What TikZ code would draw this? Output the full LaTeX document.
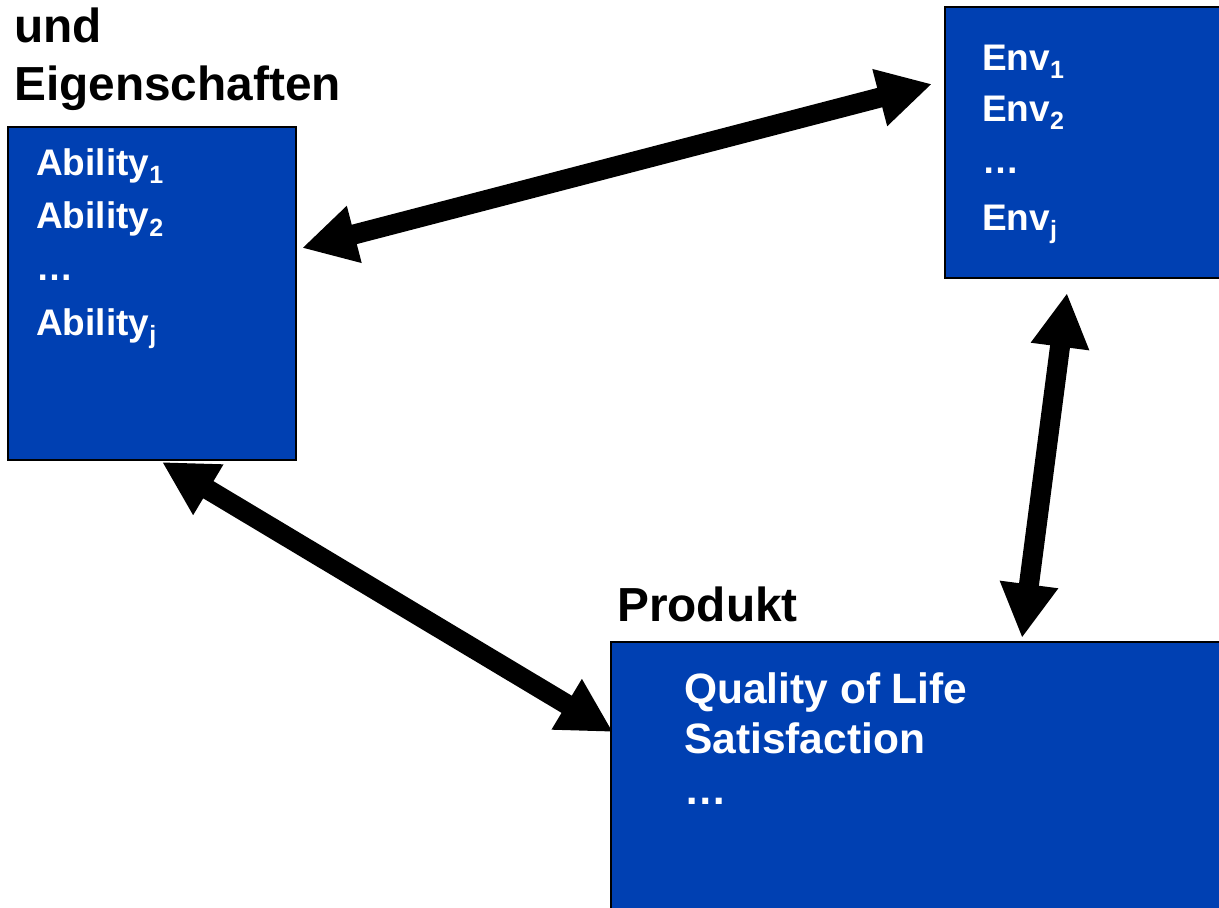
\documentclass[tikz,border=0pt]{standalone}
\usepackage{fontspec}
\setmainfont{Liberation Sans}
\usetikzlibrary{arrows.meta,calc}
\definecolor{boxblue}{RGB}{0,64,178}
\newcommand{\subt}[1]{{\fontsize{25}{25}\selectfont\raisebox{-8pt}{#1}}}
\tikzset{
  bluebox/.style={draw=black, line width=1.5pt, fill=boxblue, anchor=north west, inner sep=0pt, outer sep=0pt},
  title/.style={anchor=base west, inner sep=0pt, font=\fontsize{47.8}{47.8}\selectfont\bfseries, text=black},
  item/.style={anchor=base west, inner sep=0pt, font=\fontsize{37}{37}\selectfont\bfseries, text=white},
  bigitem/.style={anchor=base west, inner sep=0pt, font=\fontsize{42.5}{42.5}\selectfont\bfseries, text=white},
  dblarrow/.style={line width=20pt, {Triangle[length=54pt,width=55pt]}-{Triangle[length=54pt,width=55pt]}}
}
\begin{document}
\begin{tikzpicture}[x=1pt,y=-1pt]
\useasboundingbox (0,0) rectangle (1219,908);
\clip (0,0) rectangle (1219,908);
% boxes
\node[bluebox, minimum width=288pt, minimum height=333pt] (abil) at (8,127) {};
\node[bluebox, minimum width=290pt, minimum height=271pt] (env) at (945,7) {};
\node[bluebox, minimum width=620pt, minimum height=290pt] (prod) at (611,642) {};
% titles
\node[title] (und) at (14,42) {und};
\node[title] (eig) at (14,100) {Eigenschaften};
\node[title] (prodt) at (617,621) {Produkt};
% ability texts
\node[item] (a1) at (36,175) {Ability\subt{1}};
\node[item] (a2) at (36,228) {Ability\subt{2}};
\node[item] (a3) at (36,280) {…};
\node[item] (a4) at (36,335) {Ability\subt{j}};
% env texts
\node[item] (e1) at (982,70) {Env\subt{1}};
\node[item] (e2) at (982,121) {Env\subt{2}};
\node[item] (e3) at (982,173) {…};
\node[item] (e4) at (982,230) {Env\subt{j}};
% produkt texts
\node[bigitem] (q1) at (684,703) {Quality of Life};
\node[bigitem] (q2) at (684,753) {Satisfaction};
\node[bigitem] (q3) at (684,804) {…};
% arrows
\draw[dblarrow] ($(abil.north east)+(6,121)$) -- ($(env.north west)+(-13,77)$);
\draw[dblarrow] ($(abil.south west)+(154,2)$) -- ($(prod.north west)+(2,90)$);
\draw[dblarrow] ($(env.south west)+(122,15)$) -- ($(prod.north west)+(411,-4)$);
\end{tikzpicture}
\end{document}
